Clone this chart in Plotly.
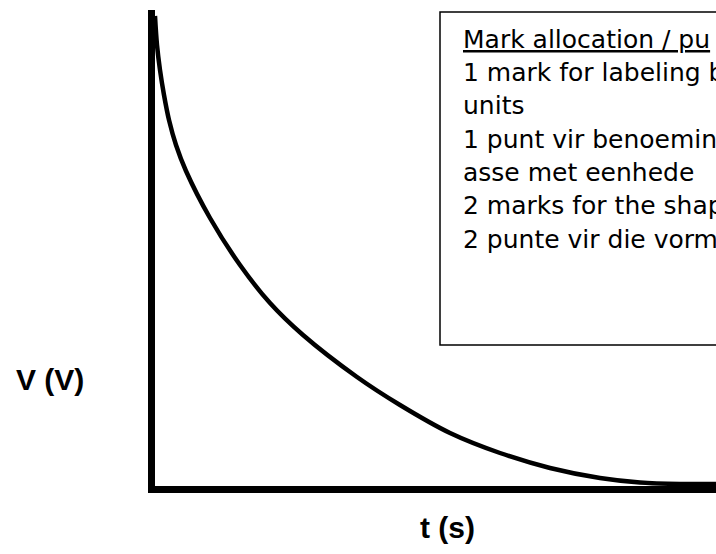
import plotly.graph_objects as go

# ---- data (arbitrary units, no tick values shown) ----
t_values = [0.00, 0.02, 0.05, 0.09, 0.14, 0.21, 0.31, 0.55, 0.85, 1.15, 1.48, 2.02, 2.45, 2.95, 3.45, 3.95, 4.45, 4.85, 5.25, 5.61]
v_values = [4.70, 4.41, 4.16, 3.91, 3.66, 3.41, 3.15, 2.68, 2.21, 1.83, 1.51, 1.09, 0.81, 0.53, 0.33, 0.18, 0.08, 0.035, 0.02, 0.02]

x_label = "t (s)"
y_label = "V (V)"
box_lines = [
    "<u>Mark allocation / pu</u>",
    "1 mark for labeling b",
    "units",
    "1 punt vir benoemin",
    "asse met eenhede",
    "2 marks for the shap",
    "2 punte vir die vorm",
]

# ---- layout geometry (pixels) ----
W, H = 716, 554
L, T, B, R = 155, 10, 68, 0
PW, PH = W - L - R, H - T - B


def px(x):
    return (x - L) / PW


def py(y):
    return (H - B - y) / PH


fig = go.Figure()
fig.add_trace(go.Scatter(
    x=t_values, y=v_values, mode="lines",
    line=dict(color="black", width=4.5, shape="spline", smoothing=1.0),
    hoverinfo="skip", showlegend=False,
))

axis_common = dict(showline=True, linecolor="black", linewidth=7, showgrid=False,
                   zeroline=False, showticklabels=False, ticks="", mirror=False)

annotations = []
fs = 25
line_font = dict(family="DejaVu Sans", size=fs, color="black")
for i, txt in enumerate(box_lines):
    baseline = 48 + 33.3 * i
    annotations.append(dict(
        text=txt, xref="paper", yref="paper", x=px(461), y=py(baseline - 0.346 * fs),
        xanchor="left", yanchor="middle", showarrow=False, font=line_font, align="left",
    ))

annotations.append(dict(
    text="<b>%s</b>" % y_label, xref="paper", yref="paper", x=px(50), y=py(379),
    xanchor="center", yanchor="middle", showarrow=False,
    font=dict(family="Liberation Sans", size=30, color="black"),
))
annotations.append(dict(
    text="<b>%s</b>" % x_label, xref="paper", yref="paper", x=px(447), y=py(527.5),
    xanchor="center", yanchor="middle", showarrow=False,
    font=dict(family="Liberation Sans", size=30, color="black"),
))

fig.update_layout(
    width=W, height=H,
    margin=dict(l=L, r=R, t=T, b=B, pad=0),
    paper_bgcolor="white", plot_bgcolor="white",
    xaxis=dict(range=[0, 5.61], **axis_common),
    yaxis=dict(range=[0, 4.76], **axis_common),
    shapes=[dict(type="rect", xref="paper", yref="paper",
                 x0=px(440), x1=px(730), y0=py(345), y1=py(12),
                 line=dict(color="black", width=1.5), fillcolor="rgba(0,0,0,0)",
                 layer="above")],
    annotations=annotations,
    showlegend=False,
)

fig.write_html(
    "out.html",
    config={"displayModeBar": False},
    post_script="document.body.style.margin='0';document.body.style.overflow='hidden';",
)
